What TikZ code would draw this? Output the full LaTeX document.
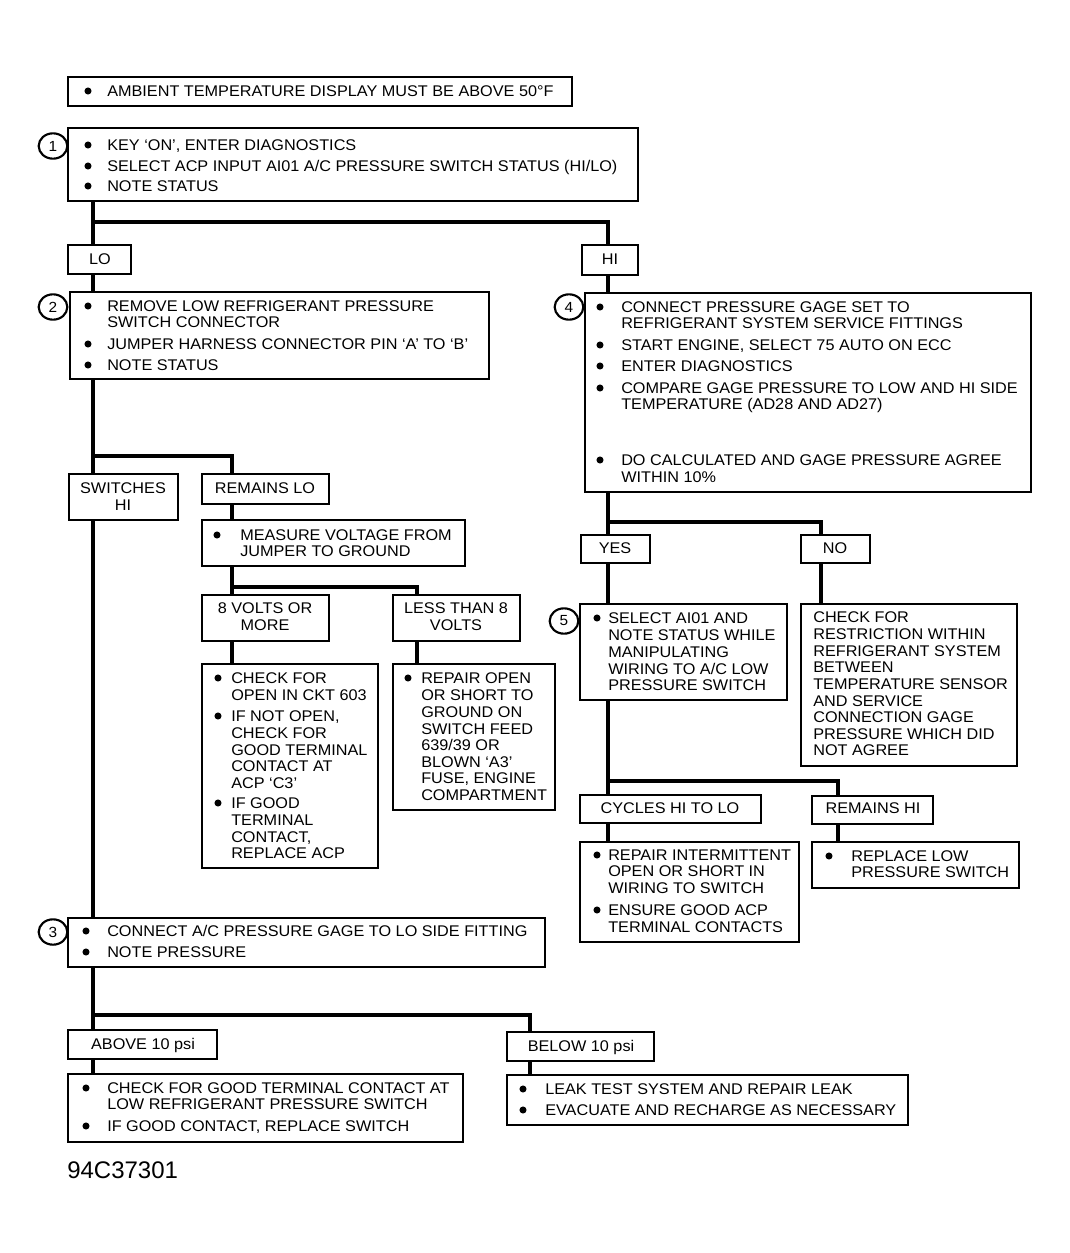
\documentclass[tikz,border=0pt]{standalone}
\usepackage{fontspec}
\setmainfont{Liberation Sans}[FakeStretch=1.05]
\newfontfamily\plainfont{Liberation Sans}
\usetikzlibrary{fit,shapes.geometric}
\newcommand\fs{\fontsize{11.6pt}{13pt}\selectfont}
\newcommand\TX[4]{\node[txt] (#1) at (#2,{#3+5.5}) {#4};}
\newcommand\BU[3]{\node[dot] (#1) at (#2,#3) {};}
\newcommand\LB[4]{\node[lbl] (#1) at (#2,{#3+5.5}) {#4};}
\newcommand\BX[5]{\node[box, fit={(#2,#3) (#4,#5)}] (#1) {};}
\tikzset{
  box/.style={draw, line width=1.5pt, inner sep=0pt, fill=white},
  txt/.style={anchor=base west, inner sep=0pt, font=\fs},
  lbl/.style={anchor=base, inner sep=0pt, font=\fs},
  dot/.style={circle, fill, inner sep=0pt, minimum size=5.3pt},
  num/.style={ellipse, draw, line width=1.6pt, inner sep=0pt, minimum width=21.5pt, minimum height=19pt, font=\fontsize{11pt}{12pt}\selectfont},
  conn/.style={line width=3pt}
}
\begin{document}
\begin{tikzpicture}[x=0.75pt, y=-0.75pt]
\useasboundingbox (0,0) rectangle (1070,1253);
% x positions of the trunks
\coordinate (xL) at (93,0);
\coordinate (xM) at (232,0);
\coordinate (xN) at (417,0);
\coordinate (xR) at (608,0);
\coordinate (xS) at (821,0);
\coordinate (xT) at (838,0);
\coordinate (xB) at (530,0);
\coordinate (j1) at (93,222);
\coordinate (j2) at (93,456);
\coordinate (j3) at (232,587);
\coordinate (j4) at (608,522);
\coordinate (j5) at (608,781);
\coordinate (j6) at (93,1015);

% boxes
\BX{amb}{68}{77}{572}{106}
\BX{b1}{68}{128}{638}{201}
\BX{lo}{68}{245}{131}{274}
\BX{hi}{582}{245}{638}{275}
\BX{b2}{70}{292}{489}{379}
\BX{b4}{585}{293}{1031}{492}
\BX{sw}{69}{474}{178}{520}
\BX{rl}{202}{474}{329}{504}
\BX{ms}{202}{520}{465}{566}
\BX{v8}{202}{595}{329}{641}
\BX{lt}{393}{595}{520}{641}
\BX{ck}{202}{664}{378}{868}
\BX{rp}{393}{664}{555}{810}
\BX{ye}{581}{535}{650}{563}
\BX{no}{801}{535}{870}{563}
\BX{b5}{580}{604}{787}{700}
\BX{nr}{801}{604}{1017}{766}
\BX{cy}{580}{795}{761}{823}
\BX{rh}{812}{796}{933}{824}
\BX{ri}{580}{842}{799}{942}
\BX{rr}{812}{842}{1019}{888}
\BX{b3}{68}{918}{545}{967}
\BX{ab}{68}{1030}{217}{1059}
\BX{be}{507}{1032}{654}{1061}
\BX{gd}{68}{1074}{463}{1142}
\BX{lk}{507}{1075}{908}{1125}

% step numbers
\node[num] (c1) at (53,146) {1};
\node[num] (c2) at (53,307) {2};
\node[num] (c3) at (53,932) {3};
\node[num] (c4) at (569,307) {4};
\node[num] (c5) at (564,621) {5};

% connectors
\draw[conn] (b1.south -| xL) -- (lo.north -| xL);
\draw[conn] (j1) -| (hi.north -| xR);
\draw[conn] (lo.south -| xL) -- (b2.north -| xL);
\draw[conn] (b2.south -| xL) -- (sw.north -| xL);
\draw[conn] (j2) -| (rl.north -| xM);
\draw[conn] (sw.south -| xL) -- (b3.north -| xL);
\draw[conn] (rl.south -| xM) -- (ms.north -| xM);
\draw[conn] (ms.south -| xM) -- (v8.north -| xM);
\draw[conn] (j3) -| (lt.north -| xN);
\draw[conn] (v8.south -| xM) -- (ck.north -| xM);
\draw[conn] (lt.south -| xN) -- (rp.north -| xN);
\draw[conn] (hi.south -| xR) -- (b4.north -| xR);
\draw[conn] (b4.south -| xR) -- (ye.north -| xR);
\draw[conn] (j4) -| (no.north -| xS);
\draw[conn] (ye.south -| xR) -- (b5.north -| xR);
\draw[conn] (no.south -| xS) -- (nr.north -| xS);
\draw[conn] (b5.south -| xR) -- (cy.north -| xR);
\draw[conn] (j5) -| (rh.north -| xT);
\draw[conn] (cy.south -| xR) -- (ri.north -| xR);
\draw[conn] (rh.south -| xT) -- (rr.north -| xT);
\draw[conn] (b3.south -| xL) -- (ab.north -| xL);
\draw[conn] (j6) -| (be.north -| xB);
\draw[conn] (ab.south -| xL) -- (gd.north -| xL);
\draw[conn] (be.south -| xB) -- (lk.north -| xB);

% ambient
\BU{a0d}{88}{91}\TX{a0}{107}{91}{AMBIENT TEMPERATURE DISPLAY MUST BE ABOVE 50°F}
% box 1
\BU{b1d1}{88}{145}\TX{b1t1}{107}{145}{KEY ‘ON’, ENTER DIAGNOSTICS}
\BU{b1d2}{88}{166}\TX{b1t2}{107}{166}{SELECT ACP INPUT AI01 A/C PRESSURE SWITCH STATUS (HI/LO)}
\BU{b1d3}{88}{186}\TX{b1t3}{107}{186}{NOTE STATUS}
% LO / HI
\LB{lot}{100}{259}{LO}
\LB{hit}{610}{259}{HI}
% box 2
\BU{b2d1}{88}{306}\TX{b2t1}{107}{306}{REMOVE LOW REFRIGERANT PRESSURE}
\TX{b2t2}{107}{322}{SWITCH CONNECTOR}
\BU{b2d2}{88}{344}\TX{b2t3}{107}{344}{JUMPER HARNESS CONNECTOR PIN ‘A’ TO ‘B’}
\BU{b2d3}{88}{365}\TX{b2t4}{107}{365}{NOTE STATUS}
% box 4
\BU{b4d1}{600}{307}\TX{b4t1}{621}{307}{CONNECT PRESSURE GAGE SET TO}
\TX{b4t2}{621}{323}{REFRIGERANT SYSTEM SERVICE FITTINGS}
\BU{b4d2}{600}{345}\TX{b4t3}{621}{345}{START ENGINE, SELECT 75 AUTO ON ECC}
\BU{b4d3}{600}{366}\TX{b4t4}{621}{366}{ENTER DIAGNOSTICS}
\BU{b4d4}{600}{388}\TX{b4t5}{621}{388}{COMPARE GAGE PRESSURE TO LOW AND HI SIDE}
\TX{b4t6}{621}{404}{TEMPERATURE (AD28 AND AD27)}
\BU{b4d5}{600}{460}\TX{b4t7}{621}{460}{DO CALCULATED AND GAGE PRESSURE AGREE}
\TX{b4t8}{621}{477}{WITHIN 10\%}
% switches hi / remains lo
\LB{swt1}{123}{488}{SWITCHES}
\LB{swt2}{123}{505}{HI}
\LB{rlt}{265}{488}{REMAINS LO}
% measure
\BU{msd}{217}{535}\TX{mst1}{240}{535}{MEASURE VOLTAGE FROM}
\TX{mst2}{240}{551}{JUMPER TO GROUND}
% volts
\LB{v8t1}{265}{608}{8 VOLTS OR}
\LB{v8t2}{265}{625}{MORE}
\LB{ltt1}{456}{608}{LESS THAN 8}
\LB{ltt2}{456}{625}{VOLTS}
% check box
\BU{ckd1}{218}{678}\TX{ckt1}{231}{678}{CHECK FOR}
\TX{ckt2}{231}{695}{OPEN IN CKT 603}
\BU{ckd2}{218}{716}\TX{ckt3}{231}{716}{IF NOT OPEN,}
\TX{ckt4}{231}{733}{CHECK FOR}
\TX{ckt5}{231}{750}{GOOD TERMINAL}
\TX{ckt6}{231}{766}{CONTACT AT}
\TX{ckt7}{231}{783}{ACP ‘C3’}
\BU{ckd3}{218}{803}\TX{ckt8}{231}{803}{IF GOOD}
\TX{ckt9}{231}{820}{TERMINAL}
\TX{ckt10}{231}{837}{CONTACT,}
\TX{ckt11}{231}{853}{REPLACE ACP}
% repair open box
\BU{rpd}{408}{678}\TX{rpt1}{421}{678}{REPAIR OPEN}
\TX{rpt2}{421}{695}{OR SHORT TO}
\TX{rpt3}{421}{712}{GROUND ON}
\TX{rpt4}{421}{729}{SWITCH FEED}
\TX{rpt5}{421}{745}{639/39 OR}
\TX{rpt6}{421}{762}{BLOWN ‘A3’}
\TX{rpt7}{421}{778}{FUSE, ENGINE}
\TX{rpt8}{421}{795}{COMPARTMENT}
% yes / no
\LB{yet}{615}{548}{YES}
\LB{not}{835}{548}{NO}
% box 5
\BU{b5d}{597}{618}\TX{b5t1}{608}{618}{SELECT AI01 AND}
\TX{b5t2}{608}{635}{NOTE STATUS WHILE}
\TX{b5t3}{608}{652}{MANIPULATING}
\TX{b5t4}{608}{669}{WIRING TO A/C LOW}
\TX{b5t5}{608}{685}{PRESSURE SWITCH}
% no result
\TX{nrt1}{813}{617}{CHECK FOR}
\TX{nrt2}{813}{634}{RESTRICTION WITHIN}
\TX{nrt3}{813}{651}{REFRIGERANT SYSTEM}
\TX{nrt4}{813}{667}{BETWEEN}
\TX{nrt5}{813}{684}{TEMPERATURE SENSOR}
\TX{nrt6}{813}{701}{AND SERVICE}
\TX{nrt7}{813}{717}{CONNECTION GAGE}
\TX{nrt8}{813}{734}{PRESSURE WHICH DID}
\TX{nrt9}{813}{750}{NOT AGREE}
% cycles / remains hi
\LB{cyt}{670}{808}{CYCLES HI TO LO}
\LB{rht}{873}{808}{REMAINS HI}
% repair intermittent
\BU{rid1}{597}{855}\TX{rit1}{608}{855}{REPAIR INTERMITTENT}
\TX{rit2}{608}{871}{OPEN OR SHORT IN}
\TX{rit3}{608}{888}{WIRING TO SWITCH}
\BU{rid2}{597}{910}\TX{rit4}{608}{910}{ENSURE GOOD ACP}
\TX{rit5}{608}{927}{TERMINAL CONTACTS}
% replace low
\BU{rrd}{829}{856}\TX{rrt1}{851}{856}{REPLACE LOW}
\TX{rrt2}{851}{872}{PRESSURE SWITCH}
% box 3
\BU{b3d1}{86}{931}\TX{b3t1}{107}{931}{CONNECT A/C PRESSURE GAGE TO LO SIDE FITTING}
\BU{b3d2}{86}{952}\TX{b3t2}{107}{952}{NOTE PRESSURE}
% above / below
\LB{abt}{143}{1044}{ABOVE 10 psi}
\LB{bet}{581}{1046}{BELOW 10 psi}
% good contact
\BU{gdd1}{86}{1088}\TX{gdt1}{107}{1088}{CHECK FOR GOOD TERMINAL CONTACT AT}
\TX{gdt2}{107}{1104}{LOW REFRIGERANT PRESSURE SWITCH}
\BU{gdd2}{86}{1126}\TX{gdt3}{107}{1126}{IF GOOD CONTACT, REPLACE SWITCH}
% leak
\BU{lkd1}{523}{1089}\TX{lkt1}{545}{1089}{LEAK TEST SYSTEM AND REPAIR LEAK}
\BU{lkd2}{523}{1110}\TX{lkt2}{545}{1110}{EVACUATE AND RECHARGE AS NECESSARY}
% figure code
\node[anchor=base west, inner sep=0pt, font=\plainfont\fontsize{18pt}{20pt}\selectfont] (code) at (67,1178) {94C37301};
\end{tikzpicture}
\end{document}
